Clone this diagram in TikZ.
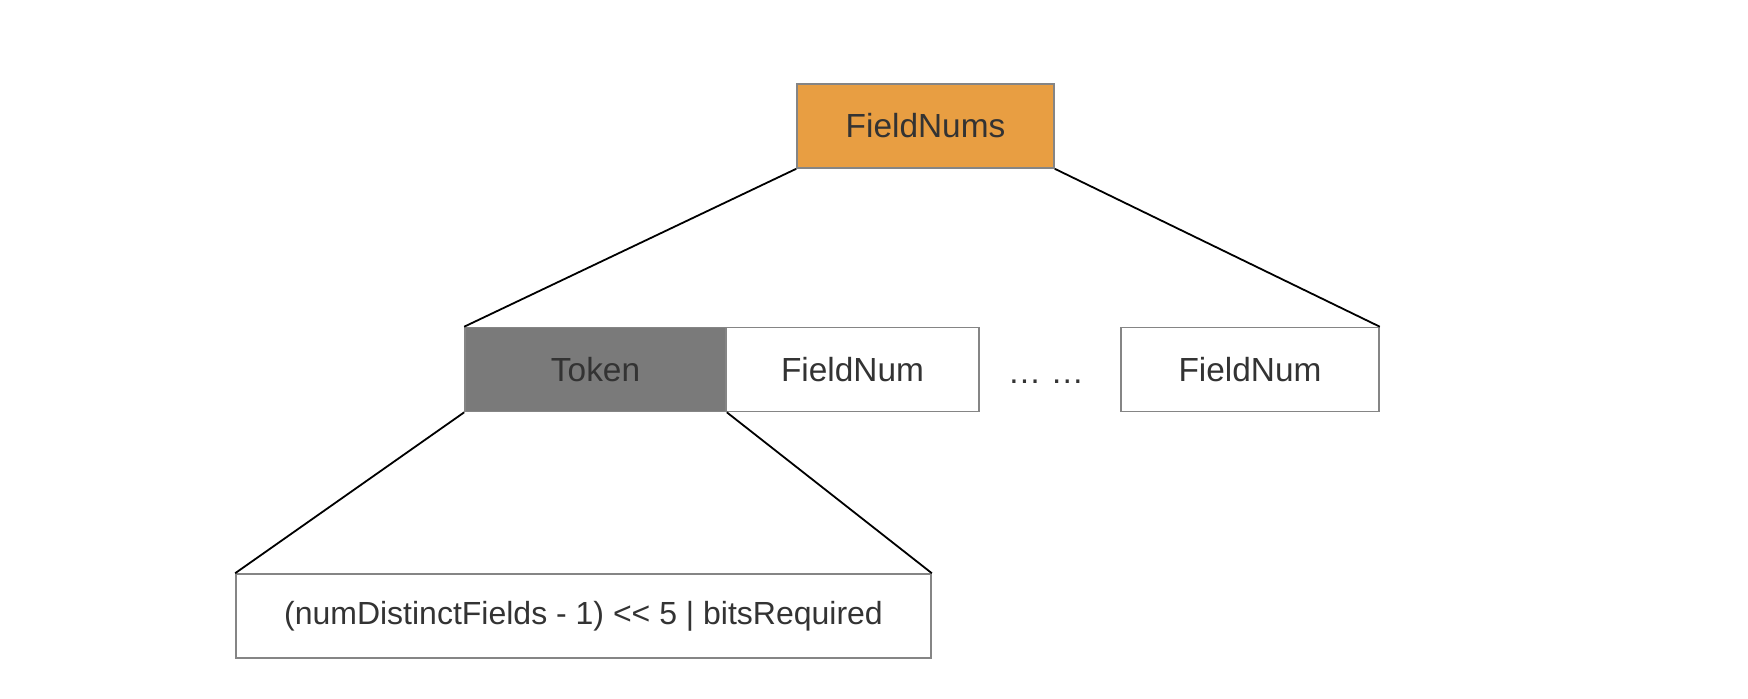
\documentclass[tikz,border=0pt]{standalone}
\usepackage{fontspec}
\setmainfont{Liberation Sans}
\definecolor{boxorange}{HTML}{E89E42}
\definecolor{tokengray}{HTML}{7A7A7A}
\definecolor{cellgray}{HTML}{858585}
\definecolor{textgray}{HTML}{333333}
\begin{document}
\begin{tikzpicture}[x=0.5pt,y=-0.5pt,
  cell/.style={draw=cellgray, line width=0.8pt, minimum height=42pt, inner sep=0pt,
    text=textgray, font=\fontsize{16.7}{19}\selectfont},
  branch/.style={line width=0.9pt}]
\useasboundingbox (0,0) rectangle (1748,698);

\node[cell, fill=boxorange, minimum width=128.5pt] (nums) at (925.5,126) {FieldNums};

\node[cell, fill=tokengray, minimum width=130.5pt] (token) at (595.5,369.5) {Token};
\node[cell, minimum width=126.5pt] (num1) at (852.5,369.5) {FieldNum};
\node[text=textgray, font=\fontsize{16.7}{19}\selectfont] (dots) at (1046,382) {… …};
\node[cell, minimum width=129pt] (num2) at (1250,369.5) {FieldNum};

\node[cell, minimum width=347.5pt, font=\fontsize{16}{19}\selectfont] (expr) at (583.5,616) {(numDistinctFields - 1) {<}{<} 5 | bitsRequired};

\draw[branch] (nums.south west) -- (token.north west);
\draw[branch] (nums.south east) -- (num2.north east);
\draw[branch] (token.south west) -- (expr.north west);
\draw[branch] (token.south east) -- (expr.north east);
\end{tikzpicture}
\end{document}
